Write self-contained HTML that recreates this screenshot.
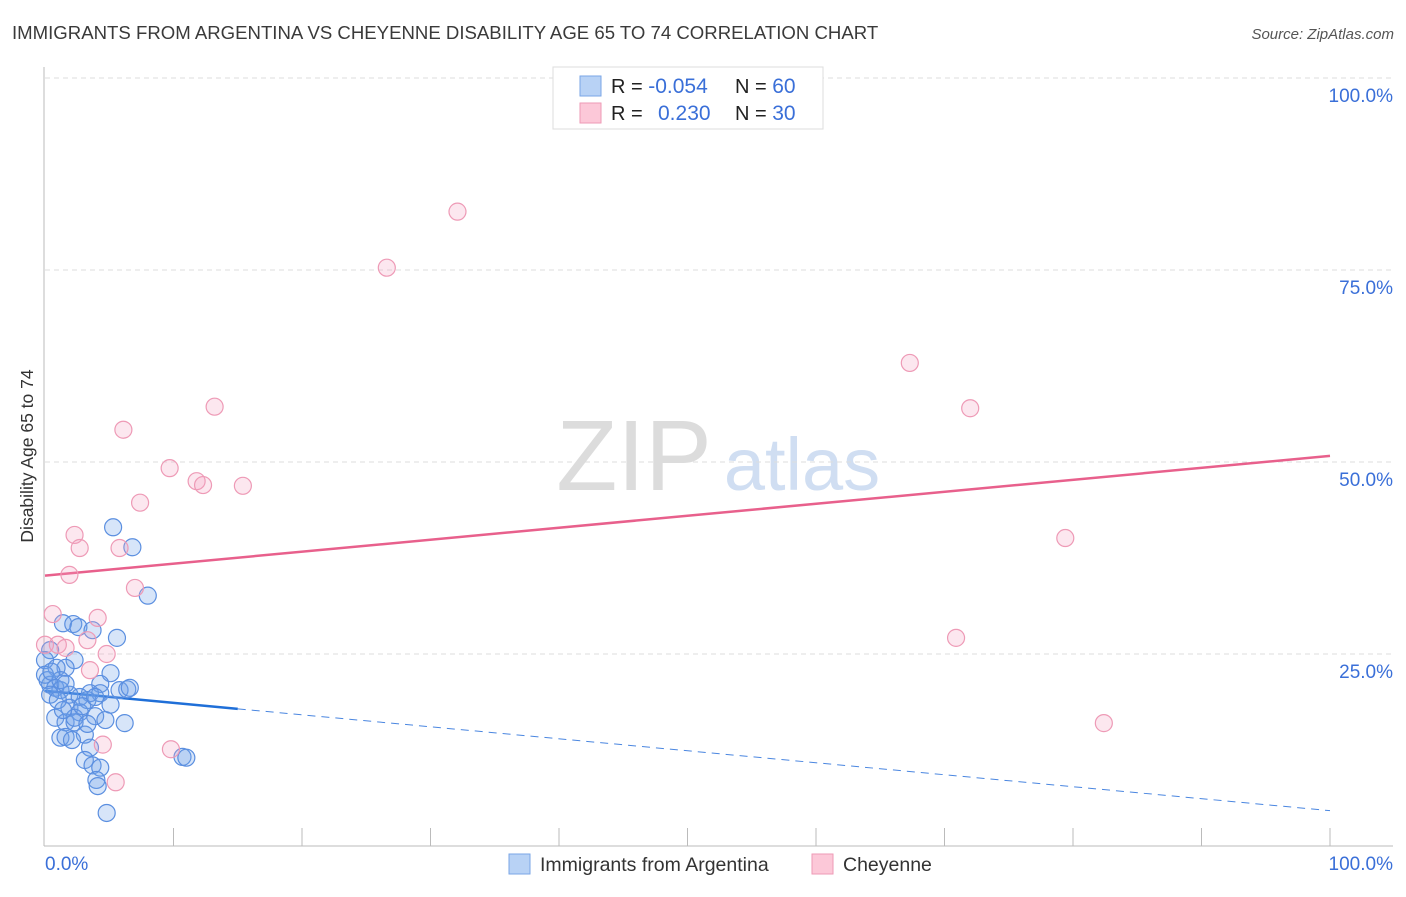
<!DOCTYPE html>
<html><head><meta charset="utf-8"><style>
body{margin:0;background:#fff;font-family:"Liberation Sans",sans-serif;}
svg text{font-family:"Liberation Sans",sans-serif;}
</style></head><body>
<svg id="chart" width="1406" height="892" xmlns="http://www.w3.org/2000/svg">
<text x="12" y="39" font-size="18.6" fill="#3a3a3a">IMMIGRANTS FROM ARGENTINA VS CHEYENNE DISABILITY AGE 65 TO 74 CORRELATION CHART</text>
<text x="1394" y="39" font-size="15" fill="#555" font-style="italic" text-anchor="end">Source: ZipAtlas.com</text>
<text transform="translate(33,456) rotate(-90)" font-size="17.5" fill="#333" text-anchor="middle">Disability Age 65 to 74</text>
<g>
<text x="634" y="490" font-size="100" fill="#dcdcdc" font-family="Liberation Serif" text-anchor="middle">ZIP</text>
<text x="802" y="490" font-size="74" fill="#d0def2" text-anchor="middle">atlas</text>
</g>
<g id="grid"></g><g id="axes"></g><g id="trend"></g><g id="pts"></g>
<g>
<rect x="553" y="67" width="270" height="62" fill="#fff" stroke="#ddd"/>
<rect x="580" y="76" width="21" height="20" fill="#b8d2f5" stroke="#7aa6e6"/>
<rect x="580" y="103" width="21" height="20" fill="#fcc8d8" stroke="#ee9ab6"/>
<text x="611" y="93" font-size="20" fill="#222">R = <tspan fill="#3a6fd8" font-size="21">-0.054</tspan></text>
<text x="735" y="93" font-size="20" fill="#222">N = <tspan fill="#3a6fd8" font-size="21">60</tspan></text>
<text x="611" y="120" font-size="20" fill="#222">R = <tspan fill="#3a6fd8" x="658" font-size="21">0.230</tspan></text>
<text x="735" y="120" font-size="20" fill="#222">N = <tspan fill="#3a6fd8" font-size="21">30</tspan></text>
</g>
<g>
<rect x="509" y="854" width="21" height="20" fill="#b8d2f5" stroke="#7aa6e6"/>
<text x="540" y="871" font-size="19.5" fill="#333">Immigrants from Argentina</text>
<rect x="812" y="854" width="21" height="20" fill="#fcc8d8" stroke="#ee9ab6"/>
<text x="843" y="871" font-size="19.5" fill="#333">Cheyenne</text>
</g>
</svg>
<script>
const blueX=[5.3,6.8,8.0,1.4,2.2,2.6,3.7,5.6,0.4,2.3,1.6,0.0,0.9,5.1,4.3,0.4,0.8,0.2,1.2,3.5,4.3,5.8,6.4,1.9,2.7,3.3,1.9,2.7,3.9,4.7,6.2,0.8,1.6,2.3,1.2,1.6,3.1,3.5,3.1,3.7,4.3,4.0,4.1,4.8,10.7,11.0,0.0,0.4,1.0,2.3,2.9,3.9,5.1,1.4,2.1,3.3,1.2,0.5,6.6,1.6];
const blueY=[41.5,38.9,32.6,29.0,28.9,28.5,28.1,27.1,25.5,24.2,23.2,24.2,23.2,22.5,21.1,21.0,20.6,21.6,20.3,19.9,19.9,20.3,20.4,19.7,19.4,19.0,18.0,17.4,16.9,16.4,16.0,16.7,16.1,16.1,14.1,14.2,14.5,12.8,11.2,10.5,10.2,8.6,7.8,4.3,11.6,11.5,22.3,19.7,19.0,16.7,18.2,19.4,18.4,17.7,13.8,15.9,21.6,22.7,20.6,21.1];
const pinkX=[32.1,26.6,67.3,72.0,13.2,6.1,9.7,11.8,12.3,15.4,7.4,2.3,2.7,5.8,1.9,7.0,0.6,4.1,0,1.0,1.6,3.3,4.8,3.5,70.9,79.4,82.4,4.5,9.8,5.5];
const pinkY=[82.6,75.3,62.9,57.0,57.2,54.2,49.2,47.5,47.0,46.9,44.7,40.5,38.8,38.8,35.3,33.6,30.2,29.7,26.2,26.2,25.8,26.8,25.0,22.9,27.1,40.1,16.0,13.2,12.6,8.3];
const yTicks=[25,50,75,100];
const yTickLabels=["25.0%","50.0%","75.0%","100.0%"];
const pinkTrend=[35.2,50.8];
const blueTrend=[20.2,4.6];
const blueSolidEnd=15;
const NS="http://www.w3.org/2000/svg";
const sx=v=>45+v*12.85, sy=v=>846-v*7.68;
function mk(t,a,p){const e=document.createElementNS(NS,t);for(const k in a)e.setAttribute(k,a[k]);p.appendChild(e);return e;}
const grid=document.getElementById('grid'),axes=document.getElementById('axes');
yTicks.forEach((t,i)=>{
 const l=mk('line',{x1:45,x2:1393,y1:sy(t),y2:sy(t),stroke:'#ddd','stroke-dasharray':'5,4'},grid);
 
 
 const tx=mk('text',{x:1393,y:sy(t)+24,'font-size':19,fill:'#3a6fd8','text-anchor':'end'},axes);
 tx.textContent=yTickLabels[i];
 
 
});
mk('line',{x1:44,x2:44,y1:67,y2:846,stroke:'#bbb'},axes);
const xa=mk('line',{x1:44,x2:1393,y1:846,y2:846,stroke:'#bbb'},axes);


for(let i=1;i<=10;i++){mk('line',{x1:sx(i*10),x2:sx(i*10),y1:828,y2:846,stroke:'#bbb'},axes);}
const x0=mk('text',{x:45,y:870,'font-size':19,fill:'#3a6fd8'},axes);x0.textContent='0.0%';


const x1=mk('text',{x:1393,y:870,'font-size':19,fill:'#3a6fd8','text-anchor':'end'},axes);x1.textContent='100.0%';


const pts=document.getElementById('pts');
blueX.forEach((x,i)=>{const c=mk('circle',{cx:sx(x),cy:sy(blueY[i]),r:8.5,fill:'rgba(110,160,235,0.28)',stroke:'#5b8fe0','stroke-width':1.2},pts);
 
 });
pinkX.forEach((x,i)=>{const c=mk('circle',{cx:sx(x),cy:sy(pinkY[i]),r:8.5,fill:'rgba(245,160,190,0.25)',stroke:'#ee9ab6','stroke-width':1.2},pts);
 
 });
const tr=document.getElementById('trend');
const pl=mk('line',{x1:sx(0),y1:sy(pinkTrend[0]),x2:sx(100),y2:sy(pinkTrend[1]),stroke:'#e8608c','stroke-width':2.5},tr);


const bAt=v=>blueTrend[0]+(blueTrend[1]-blueTrend[0])*v/100;
const bl=mk('line',{x1:sx(0),y1:sy(blueTrend[0]),x2:sx(blueSolidEnd),y2:sy(bAt(blueSolidEnd)),stroke:'#1f6fd8','stroke-width':2.5},tr);


const bd=mk('line',{x1:sx(blueSolidEnd),y1:sy(bAt(blueSolidEnd)),x2:sx(100),y2:sy(blueTrend[1]),stroke:'#4a86e0','stroke-width':1,'stroke-dasharray':'8,6'},tr);


</script>
</body></html>
